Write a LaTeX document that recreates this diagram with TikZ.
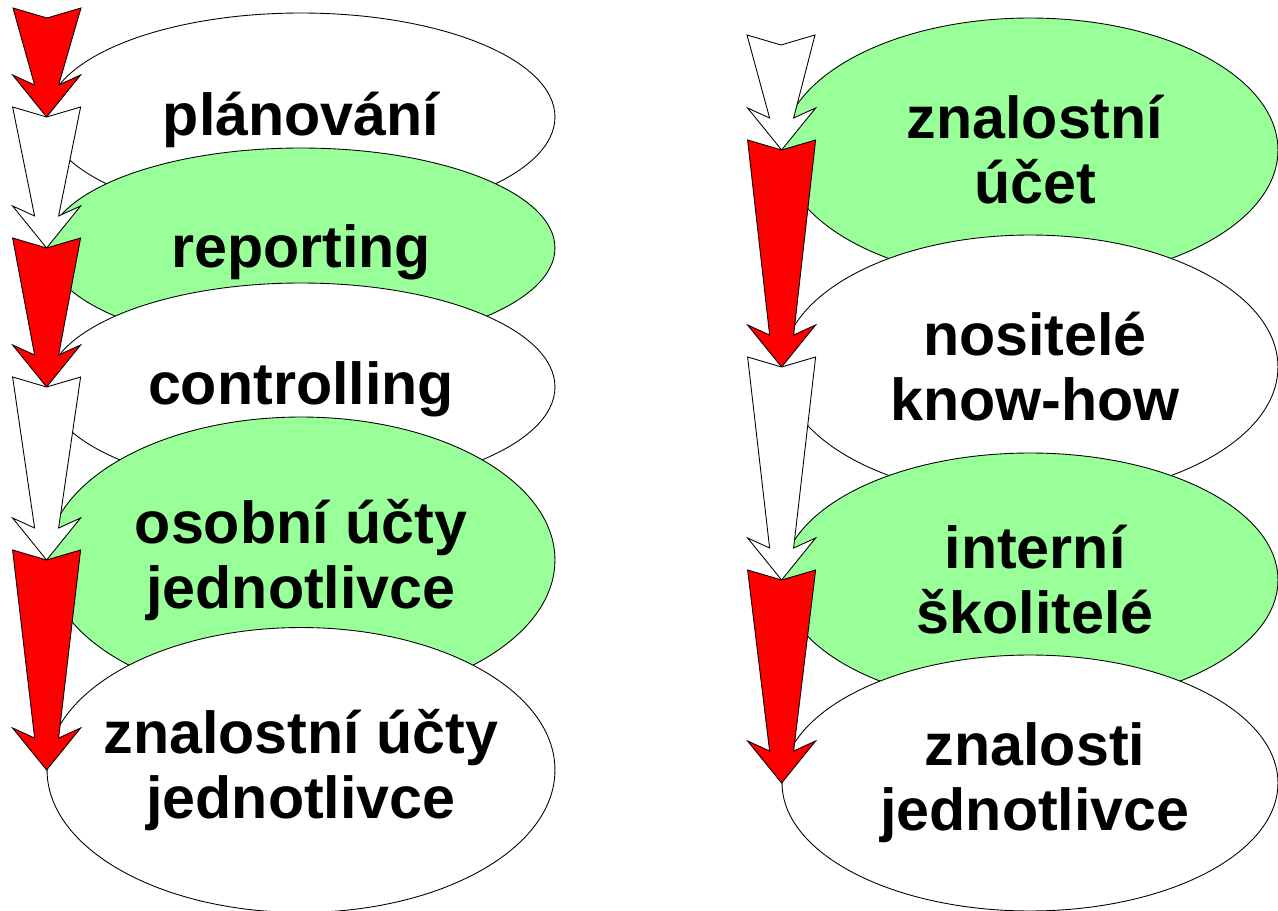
\documentclass[tikz,border=0pt]{standalone}
\usepackage{fontspec}
\setmainfont{Liberation Sans}
\usetikzlibrary{shapes.geometric}
\usetikzlibrary{calc}
\definecolor{paleGreen}{RGB}{153,255,153}
\tikzstyle{bubble}=[draw, ellipse, inner sep=0pt, line width=0.5pt]
\tikzstyle{lbl}=[font=\bfseries\fontsize{33.7}{37}\selectfont, align=center]
\tikzstyle{rlbl}=[lbl, xshift=0.1cm]
\tikzstyle{arrowline}=[draw=black, line width=0.5pt, line join=miter]
% notched tapered arrow: from notch #1 to tip #2, fill #3
\newcommand{\flowarrow}[3]{%
	\draw[arrowline, fill=#3] ($(#1)+(-34,-10)$) -- (#1) -- ($(#1)+(34,-10)$)
		-- ($(#2)+(12,-32)$) -- ($(#2)+(34,-42)$) -- (#2)
		-- ($(#2)+(-34,-42)$) -- ($(#2)+(-12,-32)$) -- cycle;}

\begin{document}
\begin{tikzpicture}[x=0.02cm, y=-0.02cm]
	\useasboundingbox (0, 0) rectangle (1278, 911);
	% left column
	\node[bubble, fill=white, minimum width=10.16cm, minimum height=4.16cm, label={[lbl, yshift=-0.05cm]center:plánování}] (l0) at (301, 117) {};
	\node[bubble, fill=paleGreen, minimum width=10.16cm, minimum height=4cm, label={[lbl, yshift=-0.08cm]center:reporting}] (l1) at (301, 248) {};
	\node[bubble, fill=white, minimum width=10.16cm, minimum height=4.16cm, label={[lbl, yshift=-0.05cm]center:controlling}] (l2) at (301, 387) {};
	\node[bubble, fill=paleGreen, minimum width=10.16cm, minimum height=5.72cm, label={[lbl]center:{osobní účty\\jednotlivce}}] (l3) at (301, 560) {};
	\node[bubble, fill=white, minimum width=10.16cm, minimum height=5.7cm, label={[lbl]center:{znalostní účty\\jednotlivce}}] (l4) at (301, 770) {};
	\coordinate (ltop) at (47, 18);
	% right column
	\node[bubble, fill=paleGreen, minimum width=9.92cm, minimum height=5.28cm, label={[rlbl]center:{znalostní\\účet}}] (r0) at (1030, 150) {};
	\node[bubble, fill=white, minimum width=9.92cm, minimum height=5.28cm, label={[rlbl]center:{nositelé\\know-how}}] (r1) at (1030, 367) {};
	\node[bubble, fill=paleGreen, minimum width=9.92cm, minimum height=5.08cm, label={[rlbl]center:{interní\\školitelé}}] (r2) at (1030, 580) {};
	\node[bubble, fill=white, minimum width=9.92cm, minimum height=5.12cm, label={[rlbl]center:{znalosti\\jednotlivce}}] (r3) at (1030, 783) {};
	\coordinate (rtop) at (781, 45);
	% arrows
	\flowarrow{ltop}{l0.west}{red}
	\flowarrow{l0.west}{l1.west}{white}
	\flowarrow{l1.west}{l2.west}{red}
	\flowarrow{l2.west}{l3.west}{white}
	\flowarrow{l3.west}{l4.west}{red}
	\flowarrow{rtop}{r0.west}{white}
	\flowarrow{r0.west}{r1.west}{red}
	\flowarrow{r1.west}{r2.west}{white}
	\flowarrow{r2.west}{r3.west}{red}
\end{tikzpicture}
\end{document}
